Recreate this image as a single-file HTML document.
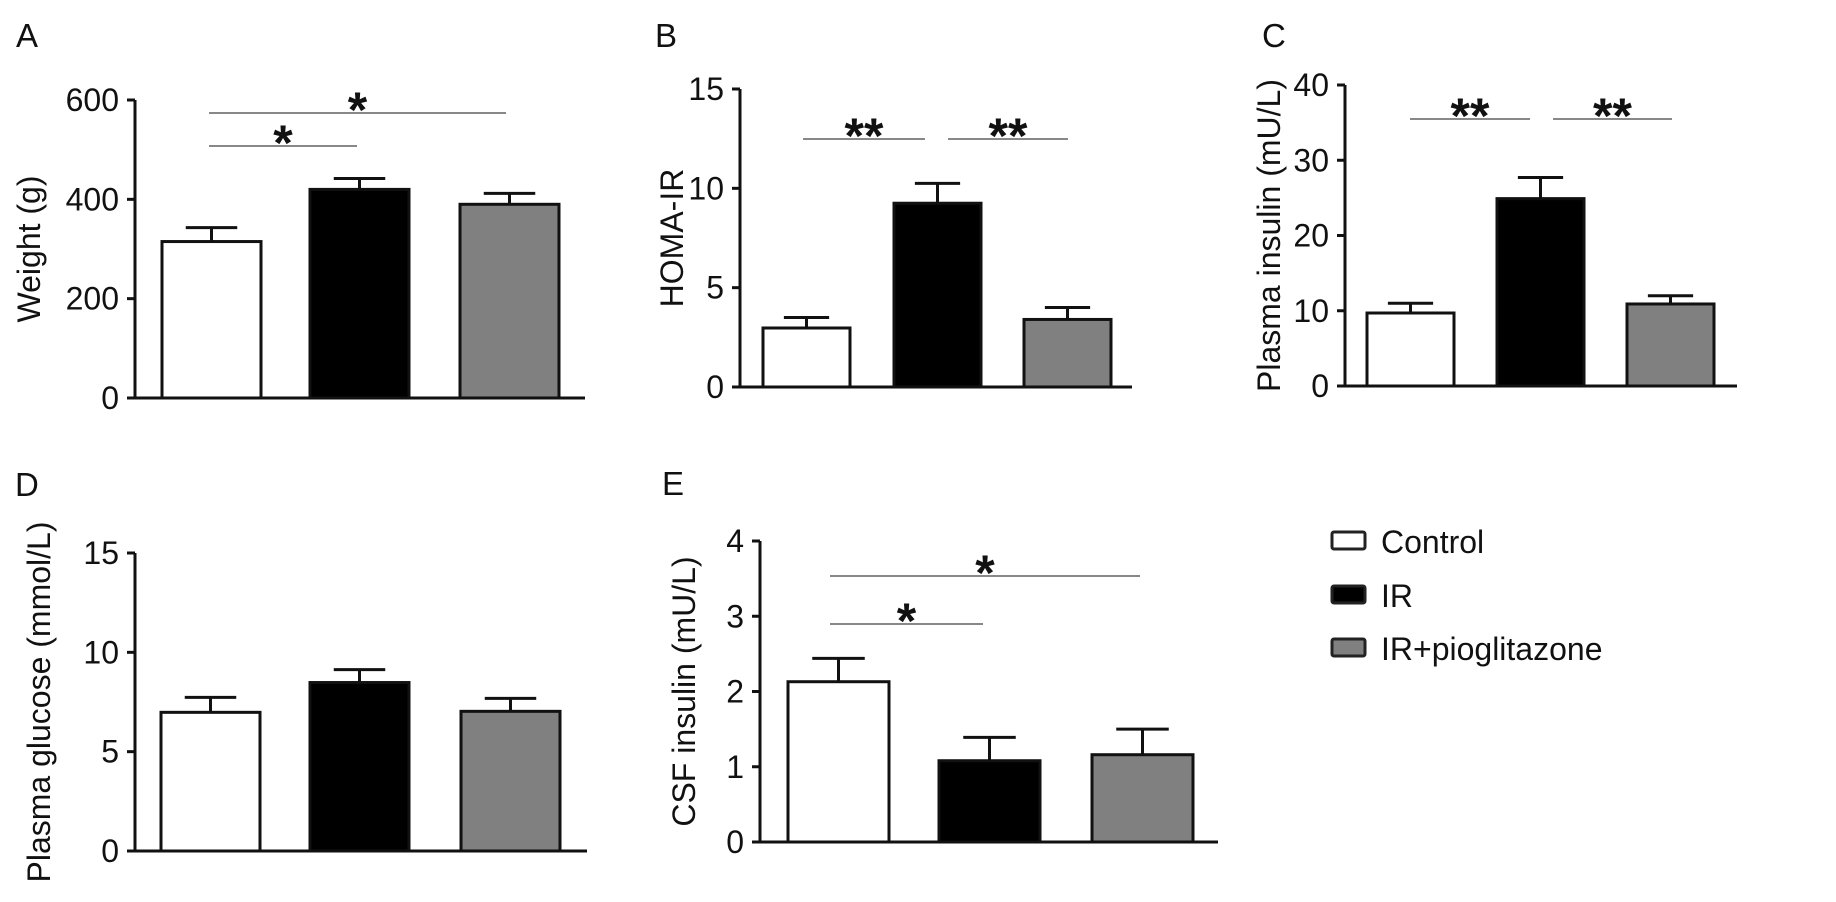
<!DOCTYPE html>
<html><head><meta charset="utf-8"><style>
html,body{margin:0;padding:0;background:#fff;}
svg{display:block;font-family:"Liberation Sans",Arial,sans-serif;}
</style></head><body>
<svg id="fig" width="1836" height="902" viewBox="0 0 1836 902" xmlns="http://www.w3.org/2000/svg"></svg>
<script>
// ---- data ----
const groups = ["Control","IR","IR+pioglitazone"];
const weightMeans = [315, 420, 390];
const weightErr = [343, 442, 412];
const homaMeans = [2.97, 9.25, 3.4];
const homaErr = [3.5, 10.25, 4.0];
const insulinMeans = [9.7, 24.9, 10.9];
const insulinErr = [11.0, 27.7, 12.0];
const glucoseMeans = [6.98, 8.48, 7.03];
const glucoseErr = [7.73, 9.13, 7.68];
const csfMeans = [2.13, 1.08, 1.16];
const csfErr = [2.44, 1.39, 1.5];
const weightTicks = [0, 200, 400, 600];
const homaTicks = [0, 5, 10, 15];
const insulinTicks = [0, 10, 20, 30, 40];
const glucoseTicks = [0, 5, 10, 15];
const csfTicks = [0, 1, 2, 3, 4];

const fills = ["#ffffff","#000000","#808080"];
const NS = "http://www.w3.org/2000/svg";
const svg = document.getElementById('fig');
function el(tag, attrs, parent){
  const e = document.createElementNS(NS, tag);
  for (const k in attrs) e.setAttribute(k, attrs[k]);
  (parent||svg).appendChild(e);
  return e;
}

const panels = [
  {id:"a", letter:"A", lx:16, ly:47, ax:135, y0:398, vmax:600, ytop:100, bx:[162,310,460], bw:99, baseEnd:585,
   means:weightMeans, errs:weightErr, ticks:weightTicks, title:"Weight (g)", tx:40,
   sig:[{x1:209,x2:506,y:113,t:"*"},{x1:209,x2:357,y:146,t:"*"}]},
  {id:"b", letter:"B", lx:655, ly:47, ax:740, y0:387, vmax:15, ytop:89, bx:[763,894,1024], bw:87, baseEnd:1132,
   means:homaMeans, errs:homaErr, ticks:homaTicks, title:"HOMA-IR", tx:683,
   sig:[{x1:803,x2:925,y:139,t:"**"},{x1:948,x2:1068,y:139,t:"**"}]},
  {id:"c", letter:"C", lx:1262, ly:47, ax:1345, y0:386, vmax:40, ytop:85, bx:[1367,1497,1627], bw:87, baseEnd:1737,
   means:insulinMeans, errs:insulinErr, ticks:insulinTicks, title:"Plasma insulin (mU/L)", tx:1280,
   sig:[{x1:1410,x2:1530,y:119,t:"**"},{x1:1553,x2:1672,y:119,t:"**"}]},
  {id:"d", letter:"D", lx:15, ly:496, ax:135, y0:851, vmax:15, ytop:553, bx:[161,310,461], bw:99, baseEnd:587,
   means:glucoseMeans, errs:glucoseErr, ticks:glucoseTicks, title:"Plasma glucose (mmol/L)", tx:50,
   sig:[]},
  {id:"e", letter:"E", lx:662, ly:495, ax:760, y0:842, vmax:4, ytop:541, bx:[788,939,1092], bw:101, baseEnd:1218,
   means:csfMeans, errs:csfErr, ticks:csfTicks, title:"CSF insulin (mU/L)", tx:695,
   sig:[{x1:830,x2:1140,y:576,t:"*"},{x1:830,x2:983,y:624,t:"*"}]}
];

panels.forEach(p => {
  const g = el('g', {});
  
  
  const yScale = v => p.y0 - (v / p.vmax) * (p.y0 - p.ytop);

  const L = el('text', {x:p.lx, y:p.ly, 'font-size':33, fill:'#111'}, g);
  L.textContent = p.letter;
  
  

  p.means.forEach((m, i) => {
    const x = p.bx[i];
    const top = yScale(m);
    const ey = yScale(p.errs[i]);
    const cx = x + p.bw / 2;
    const eb = el('line', {x1:cx, x2:cx, y1:top, y2:ey, stroke:'#111', 'stroke-width':3}, g);
    
    
    const cap = el('line', {x1:cx - p.bw * 0.26, x2:cx + p.bw * 0.26, y1:ey, y2:ey, stroke:'#111', 'stroke-width':3}, g);
    
    
    const r = el('rect', {x:x, y:top, width:p.bw, height:p.y0 - top, fill:fills[i], stroke:'#111', 'stroke-width':3}, g);
    
    
  });

  const ya = el('line', {x1:p.ax, x2:p.ax, y1:p.ytop, y2:p.y0 + 1.5, stroke:'#111', 'stroke-width':3}, g);
  
  
  const xa = el('line', {x1:p.ax - 8, x2:p.baseEnd, y1:p.y0, y2:p.y0, stroke:'#111', 'stroke-width':3}, g);
  
  

  p.ticks.forEach(t => {
    const y = yScale(t);
    const tk = el('line', {x1:p.ax - 8, x2:p.ax, y1:y, y2:y, stroke:'#111', 'stroke-width':3}, g);
    
    
    const tl = el('text', {x:p.ax - 16, y:y + 11, 'font-size':32, 'text-anchor':'end', fill:'#111'}, g);
    tl.textContent = t;
    
    
  });

  const cy = (p.y0 + p.ytop) / 2;
  const tt = el('text', {x:p.tx, y:cy, 'font-size':32, 'text-anchor':'middle', fill:'#111', transform:'rotate(-90 ' + p.tx + ' ' + cy + ')'}, g);
  tt.textContent = p.title;
  
  

  p.sig.forEach((s, k) => {
    const sl = el('line', {x1:s.x1, x2:s.x2, y1:s.y, y2:s.y, stroke:'#888', 'stroke-width':2}, g);
    
    
    const st = el('text', {x:(s.x1 + s.x2) / 2, y:s.y + 14, 'font-size':50, 'font-weight':'bold', 'text-anchor':'middle', fill:'#111'}, g);
    st.textContent = s.t;
    
    
  });
});

const legendY = [541, 595, 648];
const lg = el('g', {});


groups.forEach((name, i) => {
  const r = el('rect', {x:1332, y:legendY[i] - 9, width:33, height:17, rx:2, fill:fills[i], stroke:'#222', 'stroke-width':3}, lg);
  
  
  const t = el('text', {x:1381, y:legendY[i] + 12, 'font-size':32, fill:'#111'}, lg);
  t.textContent = name;
  
  
});
</script>
</body></html>
